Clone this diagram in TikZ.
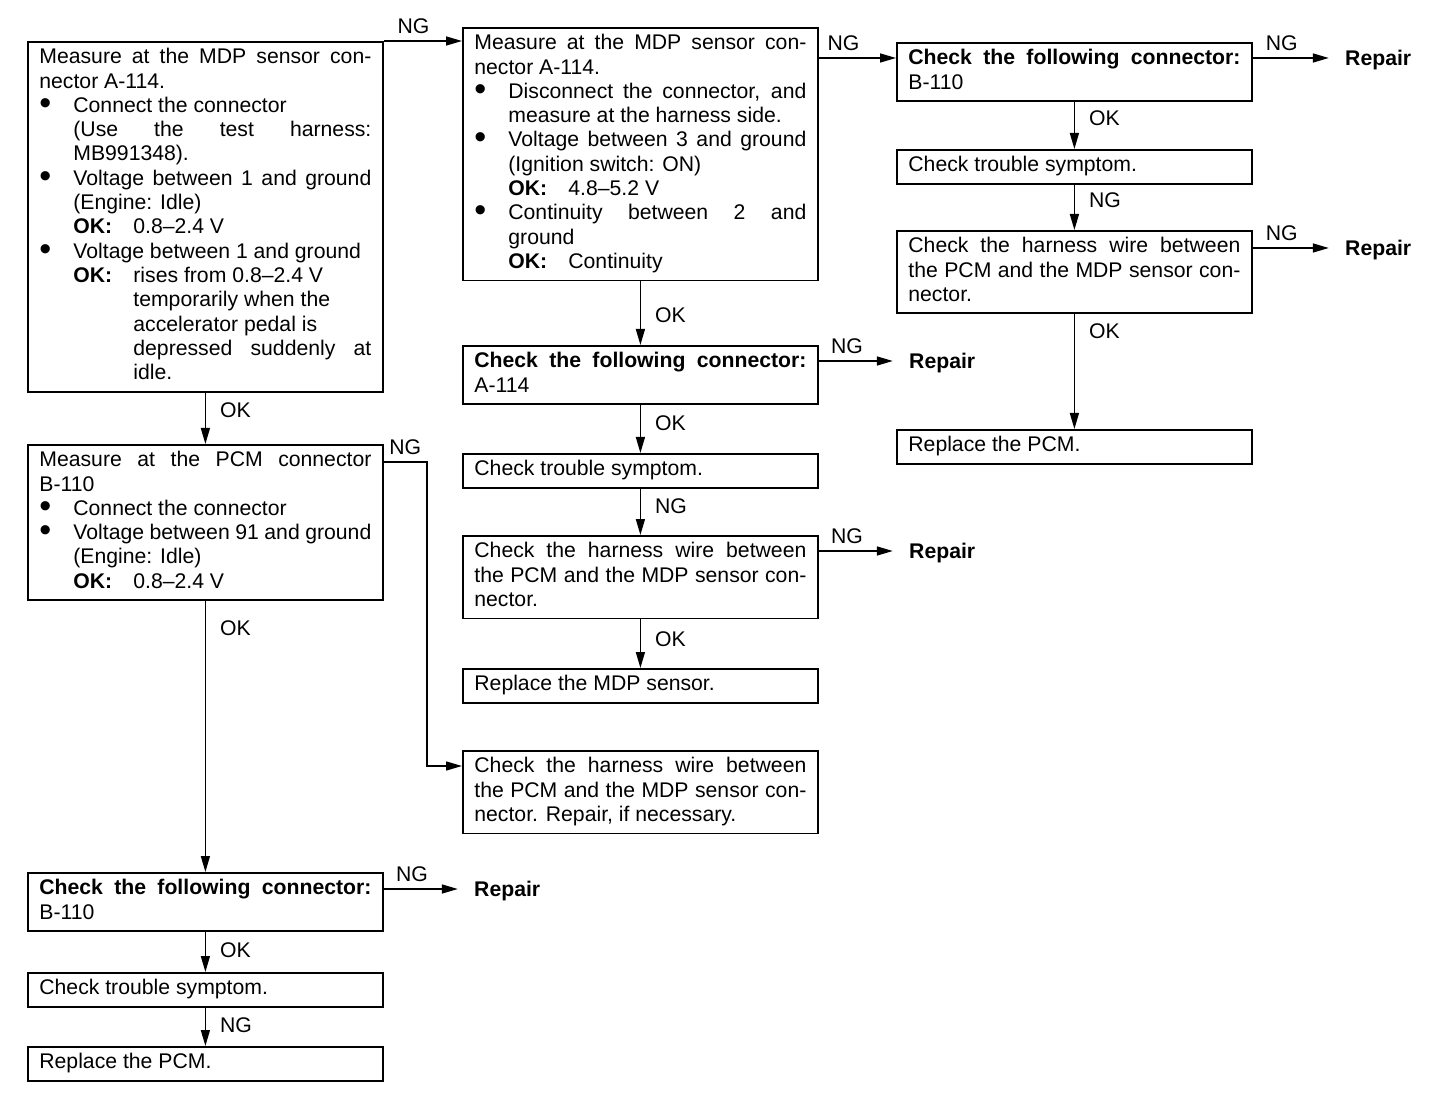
\documentclass[tikz,border=0pt]{standalone}
\usepackage{fontspec}
\setmainfont{Liberation Sans}
\usetikzlibrary{arrows.meta}

\newcommand{\boxfont}{\fontsize{10.6}{12.15}\selectfont}
\newcommand{\rbreak}{\hfil\break}
\newcommand{\bul}{\par\hangindent=17pt\hangafter=0\noindent\llap{\makebox[17pt][l]{\raisebox{-1pt}{\fontsize{17}{17}\selectfont\textbullet}}}\ignorespaces}
\newcommand{\okv}{\par\hangindent=47pt\hangafter=0\noindent\llap{\makebox[30pt][l]{\textbf{OK:}}}\ignorespaces}
\newcommand{\fin}{\strut\par}

\tikzset{
  box/.style={draw, line width=0.9pt, anchor=north west, text width=166pt,
    inner xsep=5.75pt, inner ysep=2.4pt, align=justify, font=\boxfont,
    execute at begin node={\parskip=0pt\exhyphenpenalty=10000\hyphenpenalty=10000\hbadness=10000\strut},
    execute at end node={\ifhmode\strut\fi}},
  flow/.style={line width=0.75pt, -{Triangle[length=8pt,width=4.5pt]}},
  lbl/.style={font=\boxfont, inner sep=1pt},
  rep/.style={font=\boxfont\bfseries, anchor=west, inner xsep=8pt, inner ysep=1pt,
    text height=7.6pt, text depth=0pt}
}

\begin{document}
\begin{tikzpicture}[x=0.5pt, y=-0.5pt]
\useasboundingbox (0,0) rectangle (1456,1112);

% left column
\node [box] (L1) at (27,41) {Measure at the MDP sensor con-\break nector A-114.
  \bul Connect the connector\rbreak (Use the test harness:\break MB991348).
  \bul Voltage between 1 and ground\break (Engine: Idle)
  \okv 0.8--2.4 V
  \bul Voltage between 1 and ground
  \okv rises from 0.8--2.4 V\rbreak temporarily when the\rbreak accelerator pedal is\rbreak depressed suddenly at\break idle.\fin};
\node [box] (L2) at (27,444) {Measure at the PCM connector\break B-110
  \bul Connect the connector
  \bul Voltage between 91 and ground\break (Engine: Idle)
  \okv 0.8--2.4 V\fin};
\node [box] (L3) at (27,872) {\textbf{Check the following connector:}\break B-110};
\node [box] (L4) at (27,972) {Check trouble symptom.};
\node [box] (L5) at (27,1046) {Replace the PCM.};

% middle column
\node [box] (M1) at (462,27) {Measure at the MDP sensor con-\break nector A-114.
  \bul Disconnect the connector, and\break measure at the harness side.
  \bul Voltage between 3 and ground\break (Ignition switch: ON)
  \okv 4.8--5.2 V
  \bul Continuity between 2 and\break ground
  \okv Continuity\fin};
\node [box] (M2) at (462,345) {\textbf{Check the following connector:}\break A-114};
\node [box] (M3) at (462,453) {Check trouble symptom.};
\node [box] (M4) at (462,535) {Check the harness wire between\break the PCM and the MDP sensor con-\break nector.};
\node [box] (M5) at (462,668) {Replace the MDP sensor.};
\node [box] (M6) at (462,750) {Check the harness wire between\break the PCM and the MDP sensor con-\break nector. Repair, if necessary.};

% right column
\node [box] (R1) at (896,42) {\textbf{Check the following connector:}\break B-110};
\node [box] (R2) at (896,149) {Check trouble symptom.};
\node [box] (R3) at (896,230) {Check the harness wire between\break the PCM and the MDP sensor con-\break nector.};
\node [box] (R4) at (896,429) {Replace the PCM.};

% repair ends
\node [rep] (repL3) at ([xshift=37pt,yshift=-8.5pt]L3.north east) {Repair};
\node [rep] (repM2) at ([xshift=37pt,yshift=-8pt]M2.north east) {Repair};
\node [rep] (repM4) at ([xshift=37pt,yshift=-8pt]M4.north east) {Repair};
\node [rep] (repR1) at ([xshift=38pt,yshift=-8pt]R1.north east) {Repair};
\node [rep] (repR3) at ([xshift=38pt,yshift=-9pt]R3.north east) {Repair};
\coordinate (r1in) at ([yshift=-8pt]R1.north west);

% left flow
\draw [flow] (L1.south) -- node [lbl, right=6pt, pos=0.35] {OK} (L2.north);
\draw [flow] (L2.south) -- node [lbl, right=6pt, pos=0.1] {OK} (L3.north);
\draw [flow] (L3.south) -- node [lbl, right=6pt, pos=0.45] {OK} (L4.north);
\draw [flow] (L4.south) -- node [lbl, right=6pt, pos=0.45] {NG} (L5.north);
\draw [flow] (L1.north east) -- node [lbl, above=2.5pt, pos=0.38] {NG} (L1.north east -| M1.west);
\draw [flow] ([yshift=-9pt]L2.north east) -- node [lbl, above=2.5pt] {NG} ++(43,0) |- ([yshift=-8pt]M6.north west);
\draw [flow] (L3.east |- repL3.west) -- node [lbl, above=2.5pt, pos=0.38] {NG} (repL3.west);

% middle flow
\draw [flow] (M1.south) -- node [lbl, right=6pt, pos=0.53] {OK} (M2.north);
\draw [flow] (M2.south) -- node [lbl, right=6pt, pos=0.37] {OK} (M3.north);
\draw [flow] (M3.south) -- node [lbl, right=6pt, pos=0.37] {NG} (M4.north);
\draw [flow] (M4.south) -- node [lbl, right=6pt, pos=0.4] {OK} (M5.north);
\draw [flow] (M1.east |- r1in) -- node [lbl, above=2.5pt, pos=0.32] {NG} (r1in);
\draw [flow] (M2.east |- repM2.west) -- node [lbl, above=2.5pt, pos=0.38] {NG} (repM2.west);
\draw [flow] (M4.east |- repM4.west) -- node [lbl, above=2.5pt, pos=0.38] {NG} (repM4.west);

% right flow
\draw [flow] (R1.south) -- node [lbl, right=6pt, pos=0.35] {OK} (R2.north);
\draw [flow] (R2.south) -- node [lbl, right=6pt, pos=0.35] {NG} (R3.north);
\draw [flow] (R3.south) -- node [lbl, right=6pt, pos=0.15] {OK} (R4.north);
\draw [flow] (R1.east |- repR1.west) -- node [lbl, above=2.5pt, pos=0.38] {NG} (repR1.west);
\draw [flow] (R3.east |- repR3.west) -- node [lbl, above=2.5pt, pos=0.38] {NG} (repR3.west);
\end{tikzpicture}
\end{document}
